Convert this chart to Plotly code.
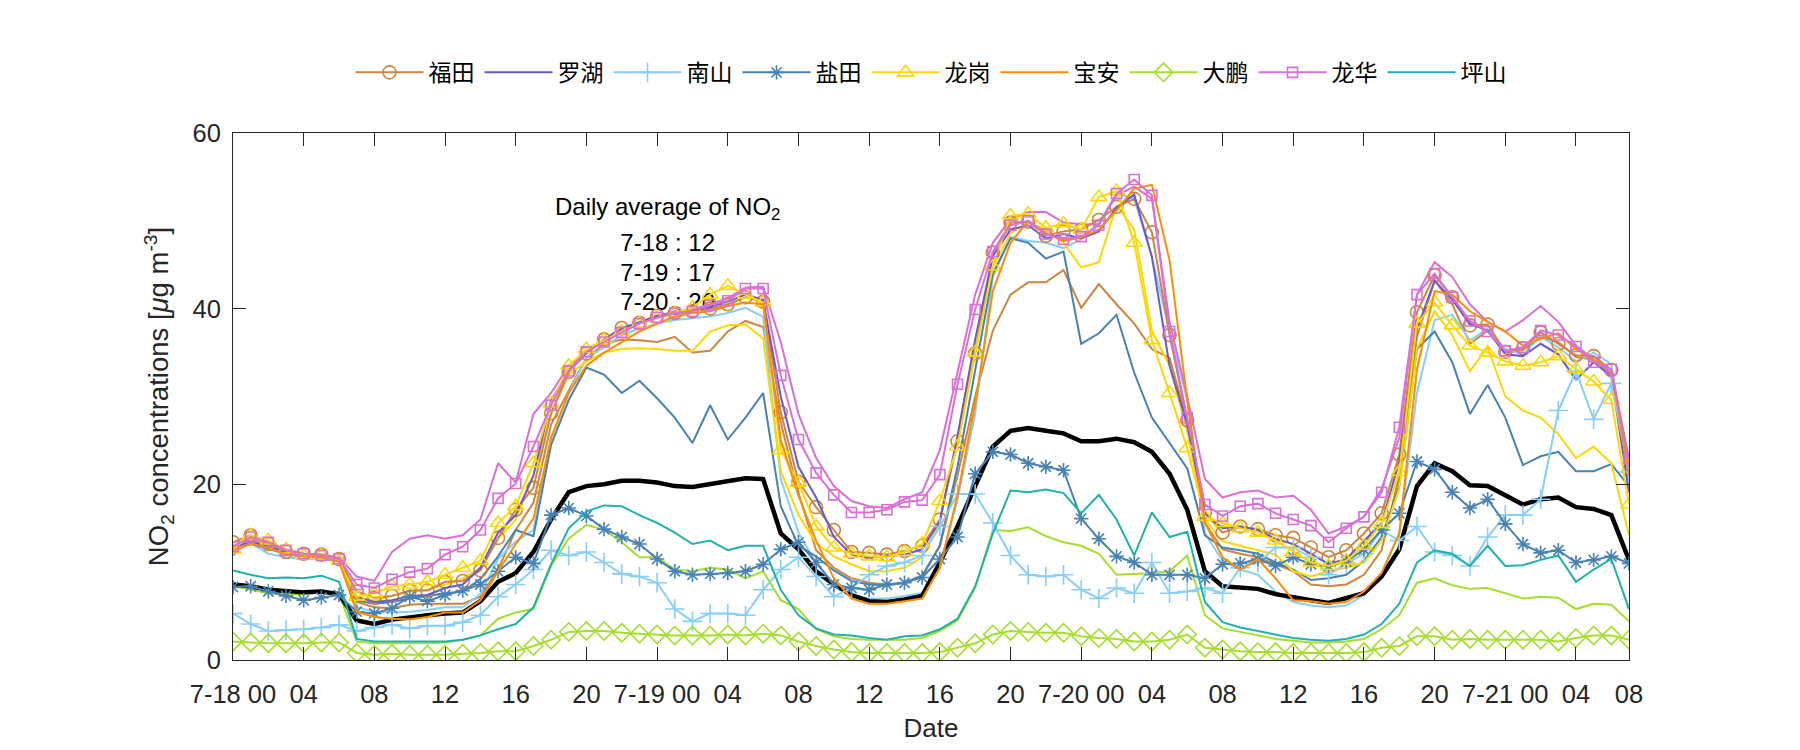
import plotly.graph_objects as go

hours = list(range(80))

tick_vals = [0, 4, 8, 12, 16, 20, 24, 28, 32, 36, 40, 44, 48, 52, 56, 60, 64, 68, 72, 76, 79]
tick_text = ["7-18 00", "04", "08", "12", "16", "20",
             "7-19 00", "04", "08", "12", "16", "20",
             "7-20 00", "04", "08", "12", "16", "20",
             "7-21 00", "04", "08"]

avg_all = [8.6, 8.4, 8.0, 7.8, 7.7, 7.8, 7.5, 4.5, 4.1, 4.6, 4.9, 5.1, 5.3, 5.4, 6.7, 8.9,
           9.9, 12.3, 16.0, 19.1, 19.8, 20.0, 20.4, 20.4, 20.2, 19.8, 19.7, 20.0, 20.3, 20.7, 20.6, 14.4,
           12.6, 10.1, 8.6, 7.4, 6.7, 6.6, 6.9, 7.3, 11.1, 15.2, 19.8, 24.3, 26.1, 26.4, 26.1, 25.8,
           24.9, 24.9, 25.2, 24.8, 23.7, 21.2, 17.1, 10.1, 8.4, 8.2, 8.1, 7.5, 7.1, 6.8, 6.5, 7.0,
           7.6, 9.5, 12.6, 19.8, 22.4, 21.5, 19.9, 19.8, 18.7, 17.7, 18.3, 18.5, 17.4, 17.2, 16.5, 11.4]

futian = [13.4, 14.2, 13.2, 12.3, 12.1, 12.0, 11.5, 7.8, 7.1, 7.3, 7.9, 7.9, 8.9, 9.0, 10.2, 13.9,
          17.1, 19.6, 28.1, 32.8, 34.9, 36.5, 37.8, 38.4, 39.2, 39.5, 39.7, 40.0, 40.5, 41.3, 40.8, 28.2,
          20.3, 17.4, 14.8, 12.3, 12.2, 12.0, 12.4, 13.0, 16.0, 24.9, 34.9, 46.4, 49.8, 49.9, 48.3, 48.8,
          49.0, 50.1, 51.6, 52.5, 48.7, 37.0, 27.3, 16.8, 14.5, 15.2, 14.9, 14.2, 13.9, 12.8, 11.7, 12.5,
          14.4, 16.7, 23.4, 39.6, 43.8, 41.3, 38.1, 38.2, 35.1, 35.5, 37.3, 36.0, 34.7, 34.6, 33.0, 21.6]

futian_b = [13.0, 13.8, 13.0, 12.3, 12.0, 12.0, 11.6, 6.6, 6.0, 5.9, 6.3, 6.4, 6.4, 6.4, 7.2, 10.3,
            14.8, 17.9, 26.8, 30.7, 34.4, 36.0, 36.5, 36.4, 36.2, 36.8, 35.0, 35.2, 37.4, 38.6, 37.9, 27.0,
            19.0, 12.5, 10.5, 9.3, 8.8, 8.6, 8.8, 9.5, 13.0, 21.0, 30.0, 37.5, 41.6, 43.0, 43.0, 44.4,
            40.1, 42.8, 40.5, 38.3, 35.4, 34.4, 27.2, 15.6, 12.6, 12.1, 11.7, 10.9, 10.1, 8.6, 8.4, 8.6,
            9.7, 12.5, 21.0, 36.8, 43.2, 40.5, 36.0, 37.5, 35.0, 35.3, 36.8, 36.2, 34.5, 34.2, 32.5, 22.0]

luohu = [12.8, 13.5, 12.9, 12.2, 11.9, 11.8, 11.4, 7.2, 6.6, 6.8, 7.3, 7.4, 8.2, 8.6, 10.5, 14.5,
         16.5, 21.0, 29.5, 33.0, 35.0, 36.4, 37.8, 38.4, 39.2, 39.4, 39.7, 40.2, 40.8, 41.6, 41.0, 30.0,
         22.0, 18.5, 14.0, 12.0, 11.7, 11.8, 12.0, 12.6, 15.8, 25.5, 36.5, 46.0, 49.0, 49.5, 48.0, 48.5,
         48.0, 48.8, 51.5, 53.0, 45.9, 33.5, 26.8, 16.7, 15.0, 15.2, 14.8, 13.8, 13.2, 12.1, 10.9, 11.5,
         13.6, 15.6, 22.6, 37.7, 43.2, 41.0, 38.3, 37.5, 34.8, 34.6, 36.0, 34.8, 31.9, 33.9, 32.3, 19.1]

nanshan = [5.3, 4.1, 3.3, 3.4, 3.5, 3.7, 4.0, 3.3, 3.7, 4.0, 3.6, 3.9, 3.9, 4.3, 5.1, 7.2,
           8.6, 10.3, 12.5, 11.9, 12.3, 11.1, 9.8, 9.5, 8.8, 5.8, 4.4, 5.3, 5.3, 5.1, 8.0, 10.3,
           11.7, 9.5, 7.2, 8.2, 9.7, 10.7, 11.1, 11.9, 15.2, 18.9, 18.9, 15.6, 11.9, 9.7, 9.5, 9.7,
           8.0, 7.0, 8.2, 7.6, 11.1, 7.6, 7.8, 8.2, 7.6, 10.5, 11.1, 12.8, 12.8, 11.7, 9.7, 11.0,
           12.1, 14.8, 13.6, 15.2, 12.3, 11.9, 10.7, 14.0, 16.5, 16.5, 18.3, 28.4, 32.9, 27.4, 31.5, 21.4]

nanshan_b = [12.5, 13.3, 12.1, 11.7, 11.5, 11.5, 11.2, 6.0, 5.5, 5.4, 5.5, 5.7, 6.0, 6.0, 7.5, 11.5,
             13.5, 14.8, 25.3, 30.4, 34.4, 35.6, 37.0, 37.7, 38.3, 38.7, 38.9, 39.1, 39.5, 40.1, 39.1, 20.6,
             14.5, 11.0, 8.6, 7.4, 7.0, 7.0, 7.3, 7.6, 10.5, 18.3, 28.0, 43.6, 48.2, 47.7, 47.5, 46.9,
             47.9, 49.8, 53.1, 52.5, 45.9, 37.4, 29.6, 14.4, 11.3, 10.3, 9.7, 7.8, 6.6, 6.2, 6.0, 6.2,
             7.4, 9.9, 14.4, 30.4, 38.7, 39.3, 36.4, 37.7, 35.4, 34.8, 36.8, 35.6, 34.0, 35.0, 33.7, 20.6]

yantian = [8.3, 8.4, 7.8, 7.3, 6.8, 7.1, 7.4, 5.5, 5.3, 5.9, 7.2, 6.7, 7.4, 7.9, 8.6, 10.1,
           11.7, 11.0, 16.5, 17.3, 16.4, 14.9, 14.0, 13.2, 11.5, 10.1, 9.7, 9.8, 9.9, 10.1, 10.9, 12.6,
           13.4, 11.1, 8.6, 8.2, 8.0, 8.6, 8.8, 9.4, 11.5, 14.0, 21.2, 23.7, 23.4, 22.4, 22.0, 21.6,
           16.1, 13.8, 11.8, 11.1, 9.7, 9.7, 9.7, 9.3, 10.9, 11.0, 11.5, 10.7, 11.7, 10.9, 10.7, 11.2,
           12.6, 14.8, 16.7, 22.6, 21.7, 19.1, 17.3, 18.3, 15.5, 13.2, 12.2, 12.5, 11.1, 11.4, 11.8, 11.0]

yantian_b = [12.6, 13.2, 12.7, 12.0, 11.8, 11.6, 11.3, 6.8, 6.4, 6.6, 7.0, 7.3, 7.6, 7.8, 9.2, 11.8,
             14.8, 14.1, 24.5, 29.6, 33.3, 32.5, 30.4, 31.8, 29.8, 27.6, 24.7, 29.0, 25.1, 27.6, 30.4, 17.5,
             13.0, 11.8, 10.2, 9.0, 8.6, 8.5, 8.8, 9.6, 13.0, 22.0, 33.0, 44.0, 48.0, 47.5, 45.7, 46.5,
             36.0, 37.2, 39.3, 32.7, 27.6, 24.7, 21.8, 14.2, 12.8, 12.5, 12.1, 11.1, 10.3, 9.1, 9.3, 9.7,
             11.3, 14.0, 19.8, 35.4, 37.4, 33.9, 28.0, 31.3, 27.6, 22.2, 23.2, 23.7, 21.5, 21.5, 22.3, 19.8]

longgang = [12.6, 14.2, 13.6, 12.6, 11.9, 11.9, 11.3, 7.2, 7.6, 8.4, 8.6, 8.9, 9.7, 10.5, 11.3, 15.6,
            17.5, 22.4, 29.2, 33.5, 35.4, 36.4, 37.4, 38.3, 38.9, 39.5, 40.1, 41.6, 42.6, 41.6, 40.7, 23.9,
            20.2, 15.2, 12.8, 12.1, 11.8, 11.7, 12.3, 13.2, 18.1, 24.3, 35.0, 44.8, 50.6, 50.8, 49.2, 49.7,
            49.0, 52.7, 53.4, 47.5, 36.4, 30.4, 24.1, 16.3, 15.6, 15.0, 14.5, 13.6, 12.3, 11.1, 10.7, 11.3,
            13.0, 15.5, 21.4, 38.3, 40.7, 38.1, 35.8, 35.0, 34.0, 33.5, 33.9, 34.6, 33.1, 31.7, 29.6, 17.7]

longgang_b = [12.3, 13.8, 13.2, 12.4, 11.8, 11.8, 11.2, 7.0, 6.8, 7.3, 7.8, 8.0, 8.6, 9.3, 10.5, 13.8,
              16.0, 21.0, 28.0, 32.5, 34.0, 35.0, 35.4, 35.5, 35.4, 35.2, 35.2, 37.4, 38.1, 38.2, 36.6, 21.5,
              16.5, 13.3, 11.8, 10.9, 10.1, 10.1, 10.5, 11.7, 15.6, 25.3, 36.2, 44.7, 48.6, 49.8, 49.0, 47.5,
              44.7, 45.3, 51.8, 49.0, 37.5, 33.5, 26.0, 16.0, 13.5, 13.0, 12.5, 12.0, 10.1, 9.5, 10.1, 10.5,
              11.1, 13.6, 19.5, 35.4, 39.7, 37.0, 32.9, 35.6, 30.0, 28.4, 27.6, 25.7, 23.0, 24.3, 22.4, 14.2]

baoan = [12.5, 13.2, 12.8, 12.0, 11.8, 11.7, 11.2, 5.5, 4.9, 4.7, 4.6, 4.9, 5.4, 5.4, 6.8, 10.1,
         13.2, 16.1, 25.3, 30.4, 33.5, 35.0, 36.2, 37.4, 38.3, 39.1, 39.5, 39.7, 40.3, 40.7, 40.5, 25.0,
         18.7, 13.6, 9.3, 7.0, 6.4, 6.4, 6.7, 7.0, 10.5, 18.7, 29.2, 42.0, 47.5, 50.0, 48.6, 47.7,
         48.1, 49.0, 51.2, 53.7, 54.1, 45.5, 29.6, 15.6, 11.7, 10.3, 11.5, 9.3, 6.8, 6.7, 6.4, 6.6,
         7.8, 9.9, 14.4, 33.1, 42.0, 41.6, 39.7, 38.5, 37.4, 35.8, 36.6, 37.2, 35.4, 34.2, 33.1, 21.0]

dapeng = [2.1, 2.0, 1.9, 1.9, 1.9, 2.0, 2.0, 0.8, 0.6, 0.7, 0.6, 0.6, 0.6, 0.7, 0.8, 1.0,
          1.0, 1.6, 2.3, 3.2, 3.3, 3.3, 3.1, 3.0, 2.9, 2.8, 2.8, 2.8, 2.9, 2.8, 3.0, 2.8,
          2.1, 1.6, 1.2, 0.9, 0.8, 0.8, 0.8, 0.8, 0.9, 1.4, 1.9, 2.9, 3.3, 3.2, 3.1, 3.1,
          2.7, 2.5, 2.4, 2.1, 2.1, 2.3, 2.9, 1.4, 1.2, 1.0, 0.9, 0.9, 0.8, 0.8, 0.8, 0.8,
          0.9, 1.4, 1.6, 2.7, 2.7, 2.3, 2.4, 2.3, 2.3, 2.3, 2.3, 2.1, 2.5, 2.8, 2.8, 2.3]

dapeng_b = [8.4, 8.0, 7.6, 7.4, 7.5, 7.7, 7.5, 2.1, 1.9, 1.9, 1.9, 1.9, 2.0, 2.3, 2.8, 4.7,
            5.4, 5.8, 10.7, 13.8, 15.4, 14.8, 13.4, 11.7, 11.7, 10.3, 10.1, 10.5, 10.3, 9.3, 10.1, 6.8,
            5.8, 3.5, 2.7, 2.4, 2.3, 2.3, 2.3, 2.5, 3.3, 4.5, 8.2, 14.8, 14.7, 15.1, 14.1, 13.4,
            13.0, 12.1, 9.7, 9.8, 9.9, 10.1, 11.9, 5.1, 3.6, 3.2, 2.8, 2.4, 2.2, 2.0, 2.0, 2.1,
            2.4, 3.5, 5.1, 8.8, 9.3, 8.5, 8.1, 8.2, 7.6, 7.0, 7.2, 7.1, 5.8, 6.4, 6.3, 4.4]

longhua = [12.9, 14.0, 13.4, 12.5, 12.1, 11.9, 11.5, 8.6, 8.2, 9.2, 10.0, 10.4, 12.0, 12.9, 14.8, 18.4,
           20.1, 24.3, 29.0, 32.9, 35.1, 36.2, 37.3, 38.3, 39.0, 39.5, 39.7, 40.4, 40.9, 42.3, 42.3, 32.4,
           25.1, 21.3, 18.8, 16.8, 16.8, 17.1, 18.0, 18.2, 21.1, 31.4, 39.9, 46.5, 49.5, 50.0, 48.5, 47.9,
           48.2, 49.5, 53.1, 54.7, 52.9, 37.4, 27.6, 17.7, 16.4, 17.5, 17.8, 16.7, 16.0, 15.3, 13.4, 15.0,
           16.3, 19.1, 26.5, 41.6, 44.0, 41.3, 38.6, 37.4, 35.2, 35.6, 37.5, 37.0, 35.7, 33.9, 33.1, 22.9]

longhua_b = [11.9, 13.8, 13.0, 12.6, 12.1, 11.9, 11.7, 9.5, 9.0, 12.3, 13.8, 14.2, 13.8, 14.2, 16.0, 22.4,
             20.2, 28.0, 30.4, 33.5, 35.0, 36.4, 37.6, 38.5, 39.1, 39.7, 39.9, 40.5, 41.2, 42.4, 42.5, 36.2,
             28.0, 23.0, 19.8, 18.1, 17.5, 17.3, 18.3, 19.1, 23.9, 32.9, 41.6, 47.5, 50.2, 51.0, 51.0, 49.8,
             49.6, 49.6, 52.9, 53.9, 52.5, 38.5, 30.0, 20.6, 18.5, 19.1, 19.3, 18.5, 18.7, 17.1, 14.4, 15.2,
             16.3, 19.5, 25.3, 41.6, 45.3, 43.6, 40.5, 38.5, 37.4, 38.7, 40.3, 38.5, 35.8, 34.2, 32.7, 21.4]

pingshan = [10.2, 9.7, 9.3, 9.4, 9.3, 9.6, 8.9, 2.4, 2.1, 2.1, 2.1, 2.1, 2.1, 2.3, 2.8, 3.5,
            4.1, 6.0, 10.9, 15.0, 16.9, 17.6, 17.5, 16.5, 15.6, 14.5, 13.2, 13.6, 12.5, 13.0, 13.0, 8.0,
            5.1, 3.6, 2.9, 2.8, 2.5, 2.3, 2.7, 2.8, 3.5, 4.7, 8.4, 14.4, 19.3, 19.1, 19.4, 19.0,
            16.7, 18.8, 16.0, 11.9, 16.8, 14.0, 14.6, 6.6, 4.3, 3.7, 3.3, 2.9, 2.5, 2.3, 2.2, 2.4,
            2.9, 4.1, 6.4, 11.1, 12.5, 12.1, 10.7, 13.0, 10.7, 10.8, 11.4, 11.9, 8.9, 10.3, 11.5, 5.8]

note_lines = ["Daily average of NO<sub>2</sub>", "7-18 : 12", "7-19 : 17", "7-20 : 20"]
note_y = [51.3, 47.2, 43.8, 40.5]

C_FT = "#CD853F"
C_LH = "#6A5ACD"
C_NS = "#87CEFA"
C_YT = "#4682B4"
C_LG = "#FFD700"
C_BA = "#FF8C00"
C_DP = "#A5DE2C"
C_LHA = "#DA70D6"
C_PS = "#20B2AA"

FONT = "Liberation Sans, Arial, sans-serif"
AX = "#262626"

fig = go.Figure()

# annotation text drawn first so data lines pass over it
fig.add_trace(go.Scatter(x=[24.6] * len(note_lines), y=note_y, text=note_lines, mode="text",
                         textposition="middle center",
                         textfont=dict(family=FONT, size=24, color="#000000"),
                         showlegend=False, hoverinfo="skip"))

LW = 2.0


def line_only(y, color, name=None, legend=False, width=LW):
    return go.Scatter(x=hours, y=y, mode="lines", name=name, showlegend=legend,
                      line=dict(color=color, width=width))


def with_marker(y, color, name, symbol, size):
    return go.Scatter(x=hours, y=y, mode="lines+markers", name=name,
                      line=dict(color=color, width=LW),
                      marker=dict(symbol=symbol, size=size, color=color,
                                  line=dict(color=color, width=1.6)))


# unlabelled companion lines
fig.add_trace(line_only(futian_b, C_FT))
fig.add_trace(line_only(nanshan_b, C_NS))
fig.add_trace(line_only(yantian_b, C_YT))
fig.add_trace(line_only(longgang_b, C_LG))
fig.add_trace(line_only(dapeng_b, C_DP))
fig.add_trace(line_only(longhua_b, C_LHA))

# average
fig.add_trace(line_only(avg_all, "#000000", width=4.5))

# legend series
fig.add_trace(with_marker(futian, C_FT, "福田", "circle-open", 13))
fig.add_trace(line_only(luohu, C_LH, "罗湖", True))
fig.add_trace(with_marker(nanshan, C_NS, "南山", "cross-thin-open", 14))
fig.add_trace(with_marker(yantian, C_YT, "盐田", "asterisk-open", 12))
fig.add_trace(with_marker(longgang, C_LG, "龙岗", "triangle-up-open", 14))
fig.add_trace(line_only(baoan, C_BA, "宝安", True))
fig.add_trace(with_marker(dapeng, C_DP, "大鹏", "diamond-open", 14))
fig.add_trace(with_marker(longhua, C_LHA, "龙华", "square-open", 10))
fig.add_trace(line_only(pingshan, C_PS, "坪山", True))

fig.update_layout(
    width=1792, height=742,
    paper_bgcolor="white", plot_bgcolor="white",
    margin=dict(l=225, r=171, t=125, b=86),
    font=dict(family=FONT, size=26, color=AX),
    legend=dict(orientation="h", x=0.5, xanchor="center", y=1.115, yanchor="middle",
                font=dict(family="Noto Sans CJK SC, sans-serif", size=23, color="#000000"),
                itemwidth=68, bgcolor="rgba(0,0,0,0)", traceorder="normal"),
    xaxis=dict(range=[0, 79], tickvals=tick_vals, ticktext=tick_text,
               ticks="inside", ticklen=13, tickcolor=AX, tickwidth=1,
               showline=True, linecolor=AX, linewidth=1, mirror="ticks",
               showgrid=False, zeroline=False, ticklabelstandoff=11,
               tickfont=dict(family=FONT, size=25.5, color=AX),
               title=dict(text="Date", font=dict(family=FONT, size=26, color=AX), standoff=12)),
    yaxis=dict(range=[0, 60], tickvals=[0, 20, 40, 60],
               ticks="inside", ticklen=13, tickcolor=AX, tickwidth=1,
               showline=True, linecolor=AX, linewidth=1, mirror="ticks",
               showgrid=False, zeroline=False, ticklabelstandoff=6,
               tickfont=dict(family=FONT, size=25.5, color=AX),
               title=dict(text="NO<sub>2</sub> concentrations [<i>μ</i>g m<sup>-3</sup>]",
                          font=dict(family=FONT, size=27.5, color=AX), standoff=15)),
)

fig.write_html("out.html")
